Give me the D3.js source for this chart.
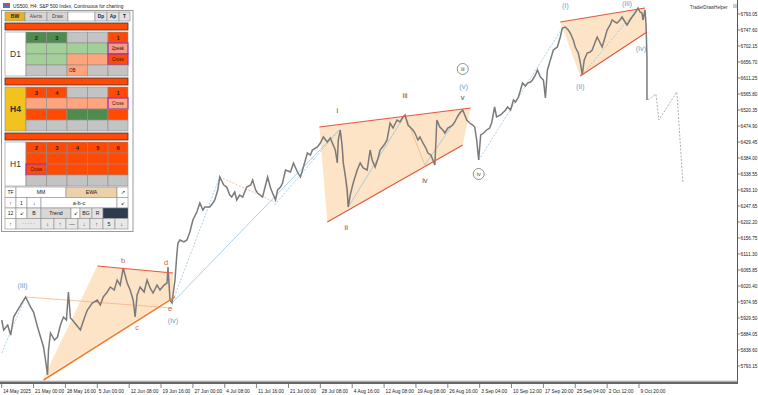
<!DOCTYPE html>
<html>
<head>
<meta charset="utf-8">
<script src="https://cdn.jsdelivr.net/npm/d3@7"></script>
<style>
  body { margin: 0; background: #fff; }
  svg text { font-family: "Liberation Sans", Arial, sans-serif; }
</style>
</head>
<body>
<svg id="chart" width="758" height="395"></svg>
<script>
// H4 bars, one label every 32 bars
var dateLabels = ["14 May 2025", "21 May 00:00", "28 May 16:00", "5 Jun 00:00", "12 Jun 08:00",
  "19 Jun 16:00", "27 Jun 00:00", "4 Jul 08:00", "11 Jul 16:00", "21 Jul 00:00", "28 Jul 08:00",
  "4 Aug 16:00", "12 Aug 08:00", "19 Aug 08:00", "26 Aug 16:00", "3 Sep 04:00", "10 Sep 12:00",
  "17 Sep 20:00", "25 Sep 04:00", "2 Oct 12:00", "9 Oct 20:00"];
var BARS_PER_LABEL = 32;

var priceTicks = [5793.15, 5838.60, 5884.05, 5929.50, 5974.95, 6020.40, 6065.85, 6111.30,
  6156.75, 6202.20, 6247.65, 6293.10, 6338.55, 6384.00, 6429.45, 6474.90, 6520.35, 6565.80,
  6611.25, 6656.70, 6702.15, 6747.60, 6793.05];

// [bar, price]
var pricePath = [
  [0,5923.8],[2,5895.4],[6,5909.6],[9,5881.2],[12,5932.3],[16,5952.2],[19,5966.4],[24,5989.2],
  [29,5960.7],[32,5946.5],[36,5903.9],[39,5875.5],[42,5847.1],[44,5810.2],[46,5767.6],[47,5838.6],
  [49,5886.9],[53,5867.0],[56,5875.5],[59,5909.6],[62,5932.3],[65,5923.8],[67,6003.4],[69,5929.5],
  [71,5923.8],[75,5909.6],[79,5895.4],[83,5929.5],[86,5952.2],[91,5972.1],[96,5980.6],[99,5966.4],
  [102,5989.2],[106,6003.4],[109,6017.6],[113,6009.0],[116,6037.4],[119,6023.2],[122,6071.5],
  [126,6028.9],[129,6009.0],[132,5980.6],[134,5932.3],[136,5994.8],[139,6017.6],[143,6003.4],
  [146,6037.4],[149,6014.7],[152,6000.5],[156,6023.2],[159,6009.0],[163,6023.2],[166,6028.9],
  [167,6074.4],[169,5980.6],[171,5972.1],[174,6037.4],[176,6114.2],[177,6142.5],[179,6151.1],
  [183,6145.4],[186,6151.1],[189,6173.8],[192,6207.9],[196,6230.6],[199,6256.2],[202,6236.3],
  [204,6244.8],[209,6244.8],[212,6256.2],[214,6264.7],[217,6293.1],[219,6330.0],[223,6307.3],
  [226,6301.6],[229,6278.9],[231,6273.2],[234,6287.4],[236,6264.7],[239,6278.9],[242,6273.2],
  [246,6301.6],[250,6307.3],[252,6321.5],[255,6293.1],[257,6284.6],[262,6273.2],[265,6307.3],
  [267,6330.0],[270,6298.8],[272,6284.6],[275,6264.7],[277,6293.1],[280,6301.6],[282,6313.0],
  [285,6349.9],[290,6344.2],[293,6369.8],[297,6344.2],[300,6330.0],[303,6358.4],[307,6398.2],
  [310,6392.5],[312,6406.7],[317,6415.3],[320,6426.6],[323,6443.7],[327,6429.5],[330,6440.8],
  [335,6406.7],[337,6369.8],[338,6435.2],[340,6463.6],[342,6415.3],[343,6369.8],[345,6335.7],
  [347,6293.1],[348,6244.8],[350,6278.9],[353,6313.0],[357,6349.9],[360,6369.8],[363,6355.6],
  [367,6349.9],[370,6406.7],[372,6378.3],[375,6358.4],[378,6384.0],[380,6406.7],[384,6420.9],
  [387,6435.2],[390,6483.4],[393,6469.2],[397,6491.9],[400,6486.3],[403,6500.5],[405,6506.2],
  [408,6477.7],[410,6472.1],[413,6463.6],[415,6455.0],[418,6435.2],[420,6443.7],[423,6426.6],
  [426,6412.4],[428,6398.2],[431,6392.5],[433,6378.3],[435,6364.1],[437,6491.9],[440,6472.1],
  [443,6463.6],[445,6455.0],[448,6469.2],[450,6472.1],[453,6477.7],[455,6486.3],[458,6503.3],
  [460,6511.8],[463,6520.4],[465,6506.2],[467,6491.9],[470,6483.4],[473,6477.7],[475,6472.1],
  [477,6435.2],[478,6406.7],[479,6378.3],[481,6449.4],[484,6455.0],[487,6463.6],[490,6469.2],
  [492,6483.4],[495,6528.9],[497,6500.5],[501,6506.2],[503,6511.8],[506,6520.4],[508,6528.9],
  [511,6520.4],[514,6548.8],[516,6543.1],[519,6557.2],[521,6577.2],[523,6597.0],[526,6588.5],
  [528,6597.0],[531,6599.9],[533,6605.6],[536,6619.8],[538,6634.0],[541,6614.1],[544,6605.6],
  [546,6554.4],[548,6634.0],[551,6662.4],[554,6690.8],[558,6699.3],[561,6727.7],[563,6753.3],
  [566,6756.1],[569,6747.6],[571,6739.1],[574,6719.2],[576,6699.3],[579,6682.3],[581,6656.7],
  [583,6619.8],[585,6662.4],[588,6682.3],[591,6685.1],[593,6690.8],[596,6713.5],[598,6727.7],
  [601,6710.7],[603,6699.3],[606,6727.7],[608,6747.6],[611,6761.8],[613,6776.0],[616,6770.3],
  [618,6767.5],[621,6776.0],[623,6784.5],[626,6770.3],[628,6761.8],[631,6776.0],[633,6784.5],
  [636,6795.9],[639,6810.1],[641,6798.8],[643,6795.9],[644,6776.0],[646,6804.4],[647,6767.5],
  [648,6670.9],[648,6548.8]
];

// projection after the last bar (dotted grey)
var projection = [[649,6548.8],[657,6565.8],[660,6491.9],[678,6571.5],[684,6315.8]];

// wedge / triangle shadings
var shadeTriangle = [[42,5759.1],[96,6077.2],[172,6057.3],[172,5989.2]];
var shadeWedge1 = [[319,6472.1],[471,6526.0],[463,6420.9],[327,6202.2]];
var shadeWedge2 = [[561,6770.3],[646,6810.1],[648,6741.9],[581,6616.9]];

// trend lines: [x1,p1,x2,p2]
var redLines = [
  [96,6077.2,172,6057.3],
  [319,6472.1,471,6526.0],[327,6202.2,463,6420.9],
  [561,6770.3,646,6810.1],[581,6616.9,648,6741.9]
];
var orangeBase = [[42,5753.4,174,5989.2]];
var thinOrange = [[24,5989.2,171,5957.9],[340,6463.6,348,6244.8],[405,6506.2,425,6364.1]];
var thinBlue = [[171,5972.1,339,6463.6],[348,6244.8,405,6506.2],[425,6364.1,463,6520.4]];
var dashBlue = [[0,5830.1,24,5989.2],[171,5972.1,219,6330.0],[274,6250.5,339,6463.6],
  [479,6378.3,563,6753.3],[583,6619.8,639,6810.1]];
var dashOrange = [[219,6330.0,274,6259.0]];

// wave labels: [text, bar, price, kind]
var waveLabels = [
  ["(iii)", 21, 6023.2, "blue"], ["b", 122, 6094.3, "red"], ["d", 165, 6088.6, "red"],
  ["c", 136, 5903.9, "red"], ["e", 169, 5957.9, "red"], ["(iv)", 172, 5923.8, "blue"],
  ["i", 337, 6520.4, "grey"], ["ii", 346, 6188.0, "grey"], ["iii", 405, 6562.9, "grey"],
  ["iv", 425, 6321.5, "grey"], ["v", 463, 6557.2, "grey"], ["(v)", 464, 6588.5, "blue"],
  ["(i)", 566, 6818.6, "blue"], ["(ii)", 581, 6588.5, "blue"], ["(iii)", 628, 6822.0, "blue"],
  ["(iv)", 642, 6696.4, "blue"]
];
var circledLabels = [["iii", 463, 6636.9], ["iv", 479, 6338.6]];

// panel cells: colour codes
var d1Cells = [["dg:2","dg:3","gr","gr","or:1"],["lg","lg","lg","lg","pk:2peak"],
  ["lg","lg","sa","sa","orp:Cross"],["gr","gr","sa:OB","gr","gr"]];
var h4Cells = [["or:3","or:4","gr","gr","or:1"],["sa","sa","sa","sa","sap:Cross"],
  ["or","or","dg","dg","or"],["gr","gr","gr","gr","gr"]];
var h1Cells = [["or:2","or:3","or:4","or:5","or:6"],["or","or","or","or","or"],
  ["orp:Cross","or","or","or","or"],["gr","gr","gr","gr","gr"]];

var W = 758, H = 395;
var svg = d3.select("#chart");
svg.append("rect").attr("width", W).attr("height", H).attr("fill", "#fff");

var x = d3.scaleLinear().domain([0, BARS_PER_LABEL * (dateLabels.length - 1)]).range([1.7, 639]);
var y = d3.scaleLinear().domain([5793.15, 6793.05]).range([366, 14]);

var plot = svg.append("g");
plot.append("clipPath").attr("id", "clip").append("rect")
    .attr("x", 0).attr("y", 0).attr("width", 737.5).attr("height", 381);
var g = plot.append("g").attr("clip-path", "url(#clip)");

var poly = function(pts) { return pts.map(function(d){ return x(d[0]) + "," + y(d[1]); }).join(" "); };
[shadeTriangle, shadeWedge1, shadeWedge2].forEach(function(s) {
  g.append("polygon").attr("points", poly(s)).attr("fill", "#fde4c6");
});

function segs(list, color, width, dash) {
  g.selectAll(null).data(list).enter().append("line")
    .attr("x1", function(d){ return x(d[0]); }).attr("y1", function(d){ return y(d[1]); })
    .attr("x2", function(d){ return x(d[2]); }).attr("y2", function(d){ return y(d[3]); })
    .attr("stroke", color).attr("stroke-width", width)
    .attr("stroke-dasharray", dash || null);
}
segs(thinOrange, "#f2b486", 0.8);
segs(thinBlue, "#93c6e2", 0.8);
segs(dashBlue, "#93c6e2", 0.8, "2,1.5");
segs(dashOrange, "#f2b486", 0.8, "2,1.5");

var line = d3.line().x(function(d){ return x(d[0]); }).y(function(d){ return y(d[1]); });
g.append("path").datum(pricePath).attr("d", line)
  .attr("fill", "none").attr("stroke", "#7a7a7a").attr("stroke-width", 1.5)
  .attr("stroke-linejoin", "miter");
g.append("path").datum(projection).attr("d", line)
  .attr("fill", "none").attr("stroke", "#9a9a9a").attr("stroke-width", 0.8)
  .attr("stroke-dasharray", "2,1.5");

segs(redLines, "#e0583f", 1.2);
segs(orangeBase, "#f07c2c", 1.5);

var labelColor = { blue: "#5fa4d2", red: "#d9605a", grey: "#555" };
g.selectAll(null).data(waveLabels).enter().append("text")
  .attr("x", function(d){ return x(d[1]); }).attr("y", function(d){ return y(d[2]); })
  .attr("dy", "0.35em").attr("text-anchor", "middle")
  .attr("font-size", 7.5).attr("fill", function(d){ return labelColor[d[3]]; })
  .text(function(d){ return d[0]; });
var circ = g.selectAll(null).data(circledLabels).enter().append("g")
  .attr("transform", function(d){ return "translate(" + x(d[1]) + "," + y(d[2]) + ")"; });
circ.append("circle").attr("r", 5.5).attr("fill", "#fff").attr("stroke", "#666").attr("stroke-width", 0.7);
circ.append("text").attr("dy", "0.35em").attr("text-anchor", "middle")
  .attr("font-size", 5.5).attr("fill", "#444").text(function(d){ return d[0]; });

// axes
svg.append("line").attr("x1", 737.5).attr("x2", 737.5).attr("y1", 0).attr("y2", 383)
  .attr("stroke", "#555").attr("stroke-width", 1);
svg.append("rect").attr("x", 0).attr("y", 381.5).attr("width", 738).attr("height", 2.5).attr("fill", "#666");
svg.append("line").attr("x1", 0).attr("x2", 738).attr("y1", 381).attr("y2", 381).attr("stroke", "#aaa").attr("stroke-width", 0.6);

var yt = svg.append("g").selectAll("g").data(priceTicks).enter().append("g")
  .attr("transform", function(d){ return "translate(738," + y(d) + ")"; });
yt.append("line").attr("x2", 2).attr("stroke", "#333").attr("stroke-width", 0.6);
yt.append("text").attr("x", 2.6).attr("dy", "0.35em").attr("font-size", 5)
  .attr("textLength", 16.8).attr("lengthAdjust", "spacingAndGlyphs").attr("fill", "#222")
  .text(function(d){ return d3.format(".2f")(d); });

var xt = svg.append("g").selectAll("g").data(dateLabels).enter().append("g")
  .attr("transform", function(d, i){ return "translate(" + x(i * BARS_PER_LABEL) + ",384)"; });
xt.append("line").attr("y2", 4).attr("stroke", "#333").attr("stroke-width", 0.6);
xt.append("text").attr("x", 1.5).attr("y", 8.5).attr("font-size", 4.8).attr("fill", "#222")
  .text(function(d){ return d; });

svg.append("text").attr("x", 690).attr("y", 8.5).attr("font-size", 4.6).attr("fill", "#333").text("TraderDrawHelper");
svg.append("rect").attr("x", 733).attr("y", 4).attr("width", 4).attr("height", 4).attr("fill", "#ccc");

// title
svg.append("rect").attr("x", 3).attr("y", 3).attr("width", 7).attr("height", 5).attr("fill", "#4a78c0");
svg.append("rect").attr("x", 6).attr("y", 3).attr("width", 4).attr("height", 3).attr("fill", "#d24a3a");
svg.append("text").attr("x", 13).attr("y", 8).attr("font-size", 4.8).attr("fill", "#222")
  .text("US500, H4:  S&P 500 Index, Continuous for charting");

// ---- control panel
var panel = svg.append("g");
panel.append("rect").attr("x", 1.5).attr("y", 10.5).attr("width", 131.5).attr("height", 221)
  .attr("fill", "#fff").attr("stroke", "#9a9a9a").attr("stroke-width", 1);

var fills = { dg: "#4f8b4f", lg: "#a3cf98", gr: "#c3c3c3", or: "#ff4a05", sa: "#ffa47c",
  pk: "#f59a86", orp: "#ff4a05", sap: "#ffa47c" };

function cell(x0, y0, w, h, fill, txt, o) {
  o = o || {};
  panel.append("rect").attr("x", x0).attr("y", y0).attr("width", w).attr("height", h)
    .attr("fill", fill).attr("stroke", o.stroke || "#8c8c8c").attr("stroke-width", o.sw || 0.6);
  if (txt) {
    panel.append("text").attr("x", o.left ? x0 + 2 : x0 + w / 2).attr("y", y0 + h / 2)
      .attr("dy", "0.36em").attr("text-anchor", o.left ? "start" : "middle")
      .attr("font-size", o.size || 5.5).attr("font-weight", o.bold ? "bold" : null)
      .attr("fill", o.color || "#222").text(txt);
  }
}

// button row
cell(5, 12, 20, 9, "#e6b22e", "BW", { bold: true, size: 5 });
cell(25, 12, 22, 9, "#d6d6d6", "Alerts", { size: 4.8, color: "#444" });
cell(47, 12, 21, 9, "#d6d6d6", "Draw", { size: 4.8, color: "#444" });
cell(68, 12, 27, 9, "#fff", "");
cell(95, 12, 12, 9, "#e2e2e2", "Dp", { bold: true, size: 4.8 });
cell(107, 12, 12, 9, "#e2e2e2", "Ap", { bold: true, size: 4.8 });
cell(119, 12, 11, 9, "#e2e2e2", "T", { bold: true, size: 4.8 });

var colX = [26, 46.5, 67, 87.5, 108, 128];
function block(top, label, labelFill, cells) {
  cell(5, top - 9, 123, 7, "#ff4a05", "", { stroke: "#333", sw: 0.8 });
  var rows = [top, top + 11, top + 22, top + 33, top + 44];
  cell(5, top, 21, 44, labelFill, label, { size: 8.5, color: "#333", bold: label === "H4" });
  cells.forEach(function(row, r) {
    row.forEach(function(code, c) {
      var parts = code.split(":"), key = parts[0], txt = parts[1] || "";
      var special = key === "pk" || key === "orp" || key === "sap";
      var isWord = txt.length > 1;
      cell(colX[c], rows[r], colX[c + 1] - colX[c], rows[r + 1] - rows[r], fills[key], txt,
        { stroke: special ? "#9c2fb0" : "#8c8c8c", sw: special ? 1.2 : 0.6,
          bold: !isWord, size: isWord ? 4.5 : 5.8, left: txt === "OB",
          color: isWord ? "#3a1010" : "#222" });
    });
  });
}
block(32, "D1", "#fff", d1Cells);
block(87, "H4", "#f2c21e", h4Cells);
block(142, "H1", "#fff", h1Cells);

// tool rows
var tr = [187, 197.5, 208, 218.5, 229];
cell(5, tr[0], 11, 10.5, "#fff", "TF", { size: 5 });
cell(16, tr[0], 50, 10.5, "#fff", "MM", { size: 5.2 });
cell(66, tr[0], 51, 10.5, "#ecd1a9", "EWA", { size: 5.2 });
cell(117, tr[0], 11, 10.5, "#fff", "\u2197", { size: 5 });
cell(5, tr[1], 11, 10.5, "#fff", "\u2191", { size: 5.5 });
cell(16, tr[1], 11, 10.5, "#fff", "1", { size: 5 });
cell(27, tr[1], 14, 10.5, "#fff", "\u2193", { size: 5.5 });
cell(41, tr[1], 76, 10.5, "#fff", "a-b-c", { size: 5.5 });
cell(117, tr[1], 11, 10.5, "#fff", "\u2199", { size: 5 });
cell(5, tr[2], 11, 10.5, "#fff", "12", { size: 5 });
cell(16, tr[2], 11, 10.5, "#fff", "\u2199", { size: 5 });
cell(27, tr[2], 14, 10.5, "#e4e4e4", "B", { size: 5.2 });
cell(41, tr[2], 30, 10.5, "#d8d8d8", "Trend", { size: 5.2 });
cell(71, tr[2], 9, 10.5, "#fff", "\u2199", { size: 5 });
cell(80, tr[2], 12, 10.5, "#e4e4e4", "BG", { size: 5.2 });
cell(92, tr[2], 11, 10.5, "#e4e4e4", "R", { size: 5.2 });
cell(103, tr[2], 25, 10.5, "#2d3b4e", "");
cell(5, tr[3], 11, 10.5, "#fff", "\u2191", { size: 5.5 });
cell(16, tr[3], 25, 10.5, "#e8e8e8", "- - - - -", { size: 4.5, color: "#888" });
cell(41, tr[3], 13, 10.5, "#e8e8e8", "\u2193", { size: 5.5 });
cell(54, tr[3], 12, 10.5, "#e8e8e8", "\u2191", { size: 5.5 });
cell(66, tr[3], 12, 10.5, "#e8e8e8", "\u2014", { size: 5.5 });
cell(78, tr[3], 12, 10.5, "#e8e8e8", "\u2193", { size: 5.5 });
cell(90, tr[3], 13, 10.5, "#e8e8e8", "\u2191", { size: 5.5 });
cell(103, tr[3], 12, 10.5, "#e8e8e8", "5", { size: 5.2 });
cell(115, tr[3], 13, 10.5, "#e8e8e8", "\u2193", { size: 5.5 });
</script>
</body>
</html>
